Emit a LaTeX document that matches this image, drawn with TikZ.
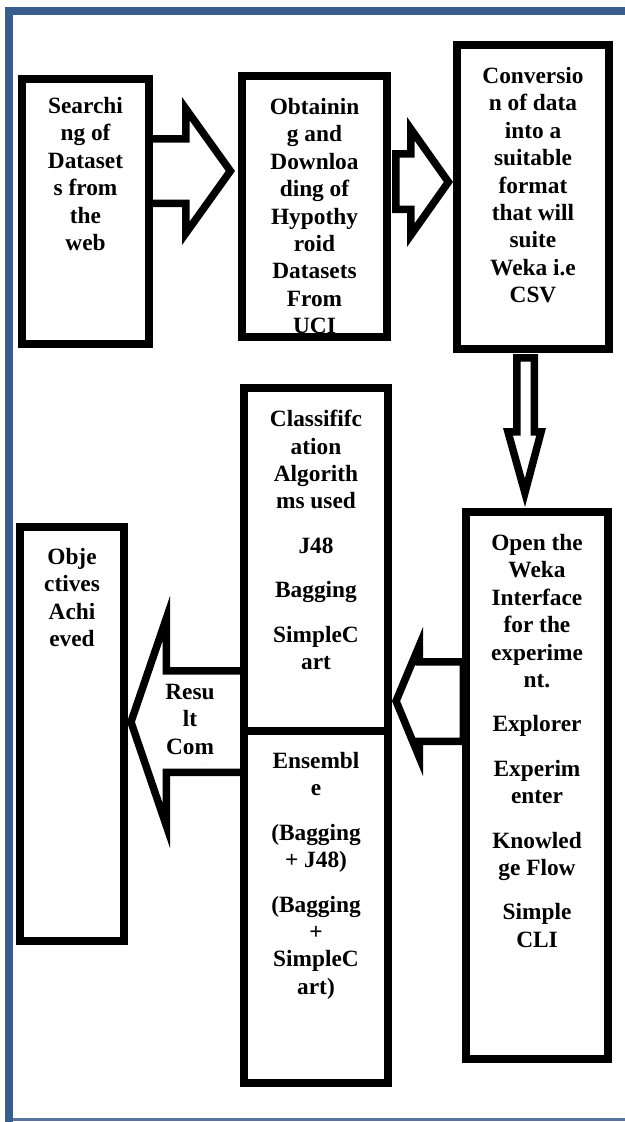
\documentclass[tikz,border=0pt]{standalone}
\usepackage{fontspec}
\setmainfont{Liberation Serif}
\usetikzlibrary{fit}
\definecolor{frameblue}{HTML}{3A5E8C}
% outlined block shape: stroke kept fully inside the outline
\newcommand{\outlinedshape}[1]{%
  \begin{scope}
    \clip #1;
    \fill[white] #1;
    \draw[black,line width=11.25pt,line join=miter] #1;
  \end{scope}}
\begin{document}
\begin{tikzpicture}[x=0.75pt,y=-0.75pt,
  box/.style={draw=black,line width=5.6pt,fill=white,inner sep=0pt,outer sep=0pt},
  lbl/.style={font=\bfseries\fontsize{17.5}{20.55}\selectfont,align=center,inner sep=0pt,anchor=north}]
\useasboundingbox (0,0) rectangle (625,1122);
% frame
\fill[frameblue] (5,7) rectangle (625,15);
\fill[frameblue] (5,7) rectangle (13,1122);
\fill[frameblue!85] (13,1118) rectangle (625,1121);

% block arrows
\outlinedshape{(145,135) -- (182,135) -- (182,97) -- (235,171) -- (182,245) -- (182,207) -- (145,207) -- cycle}
\outlinedshape{(392,150) -- (407,150) -- (407,117) -- (453,182) -- (407,247) -- (407,213) -- (392,213) -- cycle}
\outlinedshape{(513,354) -- (513,428) -- (503,428) -- (525,507) -- (546,428) -- (538,428) -- (538,354) -- cycle}
\outlinedshape{(467,658) -- (423,658) -- (423,627) -- (392,701) -- (423,776) -- (423,745) -- (467,745) -- cycle}
\outlinedshape{(248,667) -- (170,667) -- (170,596) -- (127,722) -- (170,848) -- (170,776) -- (248,776) -- cycle}

% boxes
\node[box,fit={(22,79)(149,344)}] (b1) {};
\node[box,fit={(242,76)(387,337)}] (b2) {};
\node[box,fit={(457,45)(609,349)}] (b3) {};
\node[box,fit={(466,512)(608,1059)}] (b5) {};
\node[box,fit={(244,388)(388,731)}] (m1) {};
\node[box,fit={(244,731)(388,1083)}] (m2) {};
\node[box,fit={(20,527)(124,941)}] (b6) {};

% texts
\node[lbl] (t1) at (85.5,97) {Searchi\\ng of\\Dataset\\s from\\the\\web};
\begin{scope}
\clip (245,79) rectangle (384,332);
\node[lbl] (t2) at (314.5,98) {Obtainin\\g and\\Downloa\\ding of\\Hypothy\\roid\\Datasets\\From\\UCI};
\end{scope}
\node[lbl] (t3) at (533,67) {Conversio\\n of data\\into a\\suitable\\format\\that will\\suite\\Weka i.e\\CSV};
\node[lbl] (t4) at (316,410) {Classififc\\ation\\Algorith\\ms used\\[12.75pt]J48\\[12.75pt]Bagging\\[12.75pt]SimpleC\\art};
\node[lbl] (t5) at (316,752) {Ensembl\\e\\[12.75pt](Bagging\\+ J48)\\[12.75pt](Bagging\\+\\SimpleC\\art)};
\node[lbl] (t6) at (537,534) {Open the\\Weka\\Interface\\for the\\experime\\nt.\\[12.75pt]Explorer\\[12.75pt]Experim\\enter\\[12.75pt]Knowled\\ge Flow\\[12.75pt]Simple\\CLI};
\node[lbl] (t7) at (72,548) {Obje\\ctives\\Achi\\eved};
\begin{scope}
\clip (140,675) rectangle (242,764);
\node[lbl] (t8) at (190,684) {Resu\\lt\\Com\\paris\\on};
\end{scope}
\end{tikzpicture}
\end{document}
